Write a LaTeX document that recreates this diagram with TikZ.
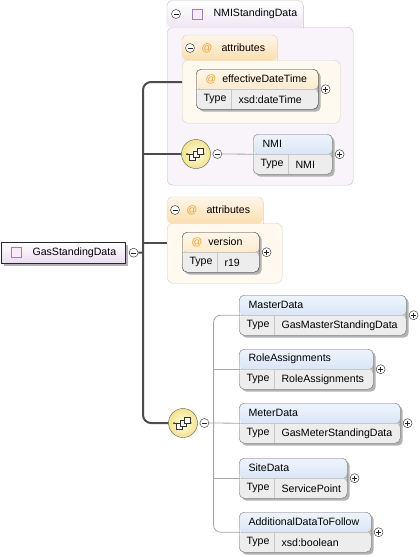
\documentclass[tikz,border=0pt]{standalone}
\usepackage{fontspec}
\setmainfont{Liberation Sans}
\usetikzlibrary{calc,positioning,shadows,arrows.meta}

\definecolor{hdtop}{HTML}{EEF4FC}
\definecolor{hdbot}{HTML}{C4D8F2}
\definecolor{attop}{HTML}{FFF7EA}
\definecolor{atbot}{HTML}{FBDDAE}
\definecolor{atfill}{HTML}{FFF9F0}
\definecolor{atline}{HTML}{D8CFC4}
\definecolor{atorange}{HTML}{EE9A2A}
\definecolor{typebg}{HTML}{EDEDED}
\definecolor{grpfill}{HTML}{F8F4FA}
\definecolor{grpline}{HTML}{C6BBD2}
\definecolor{grptab}{HTML}{EFE6F4}
\definecolor{sqfill}{HTML}{F4ECF8}
\definecolor{sqline}{HTML}{A07DBA}
\definecolor{rootbot}{HTML}{EADCF0}
\definecolor{compin}{HTML}{FFFDE4}
\definecolor{compout}{HTML}{F2E38E}

\begin{document}
\begin{tikzpicture}[x=1pt,y=-1pt,font=\fontsize{10.6}{12}\selectfont,
  rowbox/.style 2 args={rounded corners=5pt, anchor=north west, inner sep=0pt,
    minimum height=40pt,
    drop shadow={shadow xshift=2.5pt, shadow yshift=-2.5pt, fill=black!30, opacity=1},
    path picture={
      \shade[top color=#1, bottom color=#2] (path picture bounding box.north west)
        rectangle (path picture bounding box.east);
      \fill[typebg] (path picture bounding box.west) rectangle (path picture bounding box.south east);
      \draw[black!22] (path picture bounding box.west) -- (path picture bounding box.east);
      \draw[black!22] ([xshift=35pt]path picture bounding box.west)
        -- ([xshift=35pt]path picture bounding box.south west);
    }},
  elem/.style={rowbox={hdtop}{hdbot}, draw=black!55},
  attr/.style={rowbox={attop}{atbot}, draw=black!80},
  pm/.style={circle, draw=black!85, fill=white, inner sep=0pt, minimum size=9pt},
  minus/.style={pm, path picture={
      \draw ([xshift=2pt]path picture bounding box.west) -- ([xshift=-2pt]path picture bounding box.east);}},
  plus/.style={pm, path picture={
      \draw ([xshift=2pt]path picture bounding box.west) -- ([xshift=-2pt]path picture bounding box.east);
      \draw ([yshift=-2pt]path picture bounding box.north) -- ([yshift=2pt]path picture bounding box.south);}},
  sq/.style={draw=sqline, fill=sqfill, minimum size=10pt, inner sep=0pt},
  grp/.style={draw=grpline, fill=grpfill, rounded corners=6pt, anchor=north west, inner sep=0pt},
  atbox/.style={draw=atline, fill=atfill, rounded corners=6pt, anchor=north west, inner sep=0pt},
  tabfill/.style={anchor=north west, inner sep=0pt, rounded corners=5pt},
  comp/.style={circle, draw=black!65, inner sep=0pt, minimum size=29pt,
    inner color=compin, outer color=compout,
    path picture={
      \draw[black!80, -{Stealth[length=2.5pt]}] ([xshift=-9pt]path picture bounding box.center)
        -- ([xshift=9pt]path picture bounding box.center);
      \fill[black!80] ([xshift=-9pt]path picture bounding box.center) circle (1pt);
      \foreach \d in {-4,0,4}
        \filldraw[draw=black!80, fill=white]
          ([xshift=\d pt-3pt, yshift=0.8*\d pt-3pt]path picture bounding box.center)
          rectangle ([xshift=\d pt+3pt, yshift=0.8*\d pt+3pt]path picture bounding box.center);
    }},
  spine/.style={draw=black!70, line width=2pt},
  branch/.style={draw=black!35, line width=0.8pt}]

  \useasboundingbox (0,0) rectangle (420,557);

  % NMIStandingData group
  \node[grp, minimum width=186pt, minimum height=158pt] (nsd) at (167,27) {};
  \node[tabfill, top color=white, bottom color=grptab, minimum width=136pt, minimum height=27.5pt] (nsdtab) at (167,0.5) {};
  \draw[grpline, rounded corners=5pt] (nsdtab.south west) |- (nsdtab.north east) -- (nsdtab.south east);
  \node[minus] (nsdm) at (176,14) {};
  \node[sq] (nsdsq) at (197,14) {};
  \node[anchor=west] (nsdt) at (210,14) {NMIStandingData};

  % attributes of NMIStandingData
  \node[atbox, minimum width=158pt, minimum height=63pt] (at1) at (182,60) {};
  \node[tabfill, top color=attop, bottom color=atbot, minimum width=95pt, minimum height=25.5pt] (at1tab) at (182,35) {};
  \draw[atline, rounded corners=5pt] (at1tab.south west) |- (at1tab.north east) -- (at1tab.south east);
  \node[minus] (at1m) at (190,48) {};
  \node[text=atorange] (at1at) at (207,48) {@};
  \node[anchor=west] (at1t) at (218,48) {attributes};

  \node[attr, minimum width=122pt] (edt) at (196,69) {};
  \node[anchor=west] (edtn) at ($(edt.north west)+(6,10)$) {\textcolor{atorange}{@}\hspace{6pt}effectiveDateTime};
  \node[anchor=west] (edtk) at ($(edt.south west)+(4,-10)$) {Type};
  \node[anchor=west] (edtv) at ($(edt.south west)+(39,-10)$) {xsd:dateTime};
  \node[plus, right=2.5pt of edt] (edtp) {};

  % sequence of NMIStandingData
  \node[comp] (s1) at (196,154) {};
  \node[minus, right=2pt of s1] (s1m) {};
  \node[elem, minimum width=79pt] (nmi) at (253,134) {};
  \node[anchor=west] (nmin) at ($(nmi.north west)+(6,10)$) {NMI};
  \node[anchor=west] (nmik) at ($(nmi.south west)+(4,-10)$) {Type};
  \node[anchor=west] (nmiv) at ($(nmi.south west)+(39,-10)$) {NMI};
  \node[plus, right=2.5pt of nmi] (nmip) {};

  % attributes of GasStandingData
  \node[atbox, minimum width=115pt, minimum height=60pt] (at2) at (167,223) {};
  \node[tabfill, top color=attop, bottom color=atbot, minimum width=96pt, minimum height=26.5pt] (at2tab) at (167,197) {};
  \draw[atline, rounded corners=5pt] (at2tab.south west) |- (at2tab.north east) -- (at2tab.south east);
  \node[minus] (at2m) at (175,210) {};
  \node[text=atorange] (at2at) at (192,210) {@};
  \node[anchor=west] (at2t) at (203,210) {attributes};

  \node[attr, minimum width=77pt] (ver) at (182,232) {};
  \node[anchor=west] (vern) at ($(ver.north west)+(6,10)$) {\textcolor{atorange}{@}\hspace{6pt}version};
  \node[anchor=west] (verk) at ($(ver.south west)+(4,-10)$) {Type};
  \node[anchor=west] (verv) at ($(ver.south west)+(39,-10)$) {r19};
  \node[plus, right=2.5pt of ver] (verp) {};

  % root element
  \node[anchor=north west, draw=black!85, top color=white, bottom color=rootbot,
    minimum width=124pt, minimum height=21pt, inner sep=0pt,
    drop shadow={shadow xshift=2.5pt, shadow yshift=-2.5pt, fill=black!30, opacity=1}] (gsd) at (1,242) {};
  \node[sq] (gsdsq) at (16,252.5) {};
  \node[anchor=west] (gsdt) at (29,252.5) {GasStandingData};
  \node[minus, right=3.5pt of gsd] (gsdm) {};

  % sequence of GasStandingData
  \node[comp] (s2) at (183,423) {};
  \node[minus, right=2pt of s2] (s2m) {};
  \foreach \name/\type/\w/\y [count=\i] in {
      MasterData/GasMasterStandingData/167/295,
      RoleAssignments/RoleAssignments/134/349,
      MeterData/GasMeterStandingData/161/403,
      SiteData/ServicePoint/108/458,
      AdditionalDataToFollow/xsd:boolean/132/512} {
    \node[elem, minimum width=\w pt] (c\i) at (239,\y) {};
    \node[anchor=west] (c\i n) at ($(c\i.north west)+(6,10)$) {\name};
    \node[anchor=west] (c\i k) at ($(c\i.south west)+(4,-10)$) {Type};
    \node[anchor=west] (c\i v) at ($(c\i.south west)+(39,-10)$) {\type};
    \node[plus, right=2.5pt of c\i] (c\i p) {};
  }

  % connectors
  \coordinate (sp) at (143,252.5);
  \coordinate (j1) at (182,82);
  \coordinate (j2) at (167,243);
  \coordinate (b2) at ([xshift=4.5pt]s2m.east);
  \draw[spine] (gsdm.east) -- (sp);
  \draw[spine, rounded corners=8pt] (j1) -| (sp) |- (s2.west);
  \draw[spine] (s1.west) -- (s1.west -| sp);
  \draw[spine] (j2) -- (j2 -| sp);
  \draw[branch] (s1m.east) -- (nmi.west);
  \draw[branch, rounded corners=7pt] (c1.west) -| (b2) |- (c5.west);
  \draw[branch] (s2m.east) -- (c3.west);
  \draw[branch] (c2.west) -- (c2.west -| b2);
  \draw[branch] (c4.west) -- (c4.west -| b2);
\end{tikzpicture}
\end{document}
